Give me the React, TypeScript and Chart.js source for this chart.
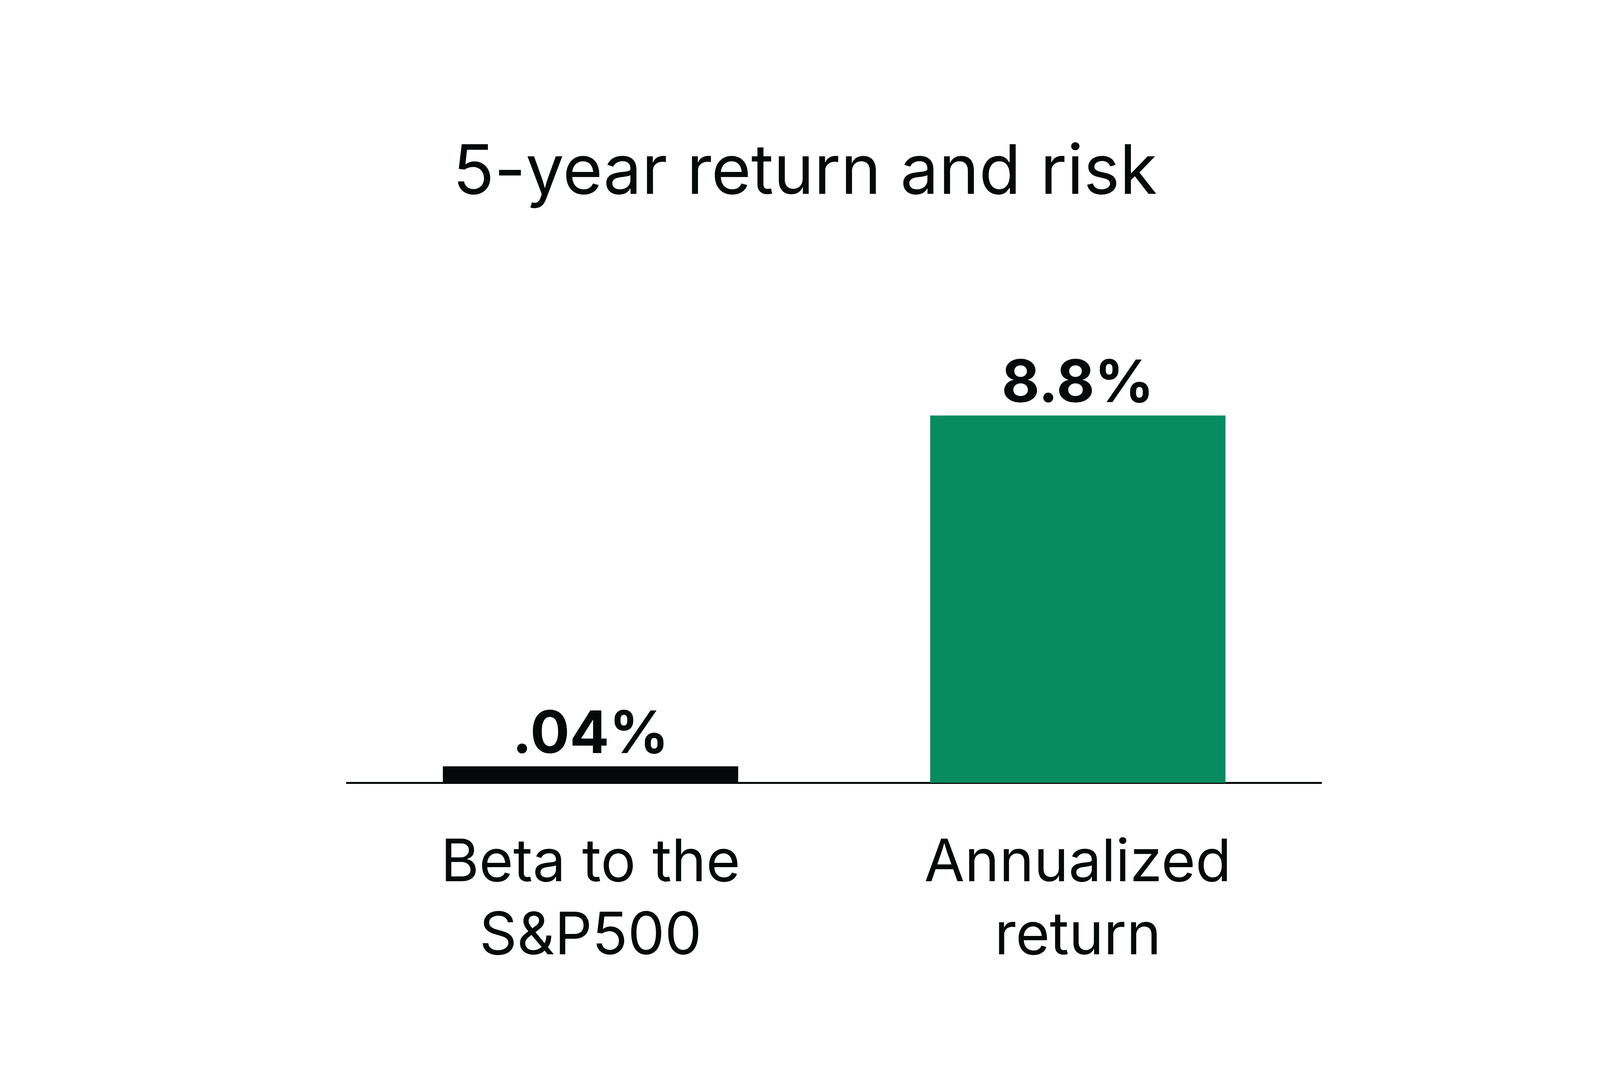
import { useEffect, useRef } from 'react';
import { Chart, registerables } from 'chart.js';

Chart.register(...registerables);

const TITLE = '5-year return and risk';
const categories: string[][] = [['Beta to the', 'S&P500'], ['Annualized', 'return']];
const values = [0.04, 8.8];
const valueLabels = ['.04%', '8.8%'];
const barColors = ['#050909', '#068c5f'];

const INK = '#050909';
const FONT = 'Inter, "Noto Sans", sans-serif';

// title and the numbers above the bars
const labelPlugin = {
  id: 'labels',
  afterDraw(chart: any) {
    const { ctx, chartArea } = chart;
    ctx.save();
    ctx.fillStyle = INK;
    ctx.textAlign = 'center';
    ctx.textBaseline = 'alphabetic';

    ctx.font = `400 175px ${FONT}`;
    ctx.fillText(TITLE, chartArea.left + chartArea.width * 0.47, 496);

    ctx.font = `700 150px ${FONT}`;
    const meta = chart.getDatasetMeta(0);
    meta.data.forEach((bar: any, i: number) => {
      ctx.fillText(valueLabels[i], bar.x, bar.y - 34);
    });
    ctx.restore();
  },
};

export default function App() {
  const chartRef = useRef<HTMLCanvasElement>(null);
  const chartInstance = useRef<Chart | null>(null);

  useEffect(() => {
    document.body.style.margin = '0';
    if (!chartRef.current) return;
    const ctx = chartRef.current.getContext('2d');
    if (!ctx) return;

    if (chartInstance.current) {
      chartInstance.current.destroy();
    }

    chartInstance.current = new Chart(ctx, {
      type: 'bar',
      data: {
        labels: categories,
        datasets: [{
          data: values,
          backgroundColor: barColors,
          borderWidth: 0,
          minBarLength: 42,
          barPercentage: 1,
          categoryPercentage: 0.606,
        }],
      },
      options: {
        animation: false,
        responsive: true,
        maintainAspectRatio: false,
        devicePixelRatio: 1,
        layout: {
          padding: { top: 935, left: 888, right: 847, bottom: 152 },
        },
        plugins: {
          legend: { display: false },
          title: { display: false },
          tooltip: { enabled: false },
        },
        scales: {
          x: {
            z: 1,
            grid: { display: false, drawTicks: false },
            border: { display: true, color: INK, width: 5 },
            ticks: {
              color: INK,
              padding: 113,
              maxRotation: 0,
              autoSkip: false,
              font: { family: FONT, size: 150, lineHeight: 1.25 },
            },
          },
          y: {
            display: false,
            min: 0,
            max: 10,
          },
        },
      },
      plugins: [labelPlugin],
    });

    return () => {
      if (chartInstance.current) {
        chartInstance.current.destroy();
        chartInstance.current = null;
      }
    };
  }, []);

  return (
    <div style={{ position: 'fixed', left: 0, top: 0, width: 4230, height: 2756, background: '#ffffff' }}>
      <canvas ref={chartRef} />
    </div>
  );
}
